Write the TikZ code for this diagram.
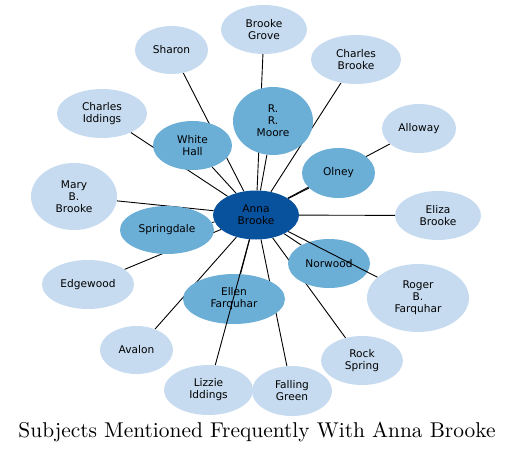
\documentclass[tikz,border=0pt]{standalone}
\usepackage{fontspec}
\newfontfamily\dv{DejaVu Sans}
\newfontfamily\ttl{lmroman10-regular.otf}
\usetikzlibrary{shapes.geometric,backgrounds}
\definecolor{cdark}{HTML}{08519C}
\definecolor{cmid}{HTML}{6BAED6}
\definecolor{clight}{HTML}{C6DBEF}
\tikzset{
  base/.style={ellipse, inner sep=0pt, align=center, text=black,
    font=\dv\fontsize{10.6}{12}\selectfont},
  dk/.style={base, fill=cdark},
  md/.style={base, fill=cmid},
  lt/.style={base, fill=clight},
  conn/.style={draw=black, line width=0.9pt},
}
\begin{document}
\begin{tikzpicture}[x=1pt,y=-1pt]
\useasboundingbox (0,0) rectangle (512,452);
\node[dk, minimum width=86pt, minimum height=49pt] (a) at (256,215) {Anna\\Brooke};
\node[md, minimum width=80pt, minimum height=68pt] (rr) at (273,121) {R.\\R.\\Moore};
\node[md, minimum width=79pt, minimum height=49pt] (wh) at (192.5,145.5) {White\\Hall};
\node[md, minimum width=73pt, minimum height=50pt] (ol) at (338.5,173) {Olney};
\node[md, minimum width=94pt, minimum height=48pt] (sp) at (167,230) {Springdale};
\node[md, minimum width=82pt, minimum height=49pt] (nw) at (329,263.5) {Norwood};
\node[md, minimum width=102pt, minimum height=50pt] (ef) at (234,299) {Ellen\\Farquhar};
\node[lt, minimum width=86pt, minimum height=49pt] (bg) at (264,29.5) {Brooke\\Grove};
\node[lt, minimum width=73pt, minimum height=48pt] (sh) at (171.5,50) {Sharon};
\node[lt, minimum width=90pt, minimum height=49pt] (cb) at (356,59.5) {Charles\\Brooke};
\node[lt, minimum width=90pt, minimum height=49pt] (ci) at (102,113.5) {Charles\\Iddings};
\node[lt, minimum width=74pt, minimum height=49pt] (al) at (419,128.5) {Alloway};
\node[lt, minimum width=86pt, minimum height=67pt] (mb) at (74,196.5) {Mary\\B.\\Brooke};
\node[lt, minimum width=86pt, minimum height=49pt] (eb) at (438,215.5) {Eliza\\Brooke};
\node[lt, minimum width=92pt, minimum height=49pt] (ew) at (88,284.5) {Edgewood};
\node[lt, minimum width=102pt, minimum height=68pt] (rf) at (418,298) {Roger\\B.\\Farquhar};
\node[lt, minimum width=73pt, minimum height=48pt] (av) at (136.5,350) {Avalon};
\node[lt, minimum width=82pt, minimum height=49pt] (rs) at (362,360.5) {Rock\\Spring};
\node[lt, minimum width=89pt, minimum height=50pt] (li) at (208.5,390) {Lizzie\\Iddings};
\node[lt, minimum width=80pt, minimum height=50pt] (fg) at (292,391) {Falling\\Green};
\node[font=\ttl\fontsize{21.4}{25}\selectfont, inner sep=0pt, anchor=base] (title) at (257,437) {Subjects Mentioned Frequently With Anna Brooke};
\begin{pgfonlayer}{background}
\foreach \t in {rr,wh,ol,sp,nw,ef,bg,sh,cb,ci,al,mb,eb,ew,av,rs,fg}
  \draw[conn] (a) -- (\t);
\end{pgfonlayer}
\draw[conn] (a) -- (li);
\draw[conn] (a) -- (rf);
\end{tikzpicture}
\end{document}
